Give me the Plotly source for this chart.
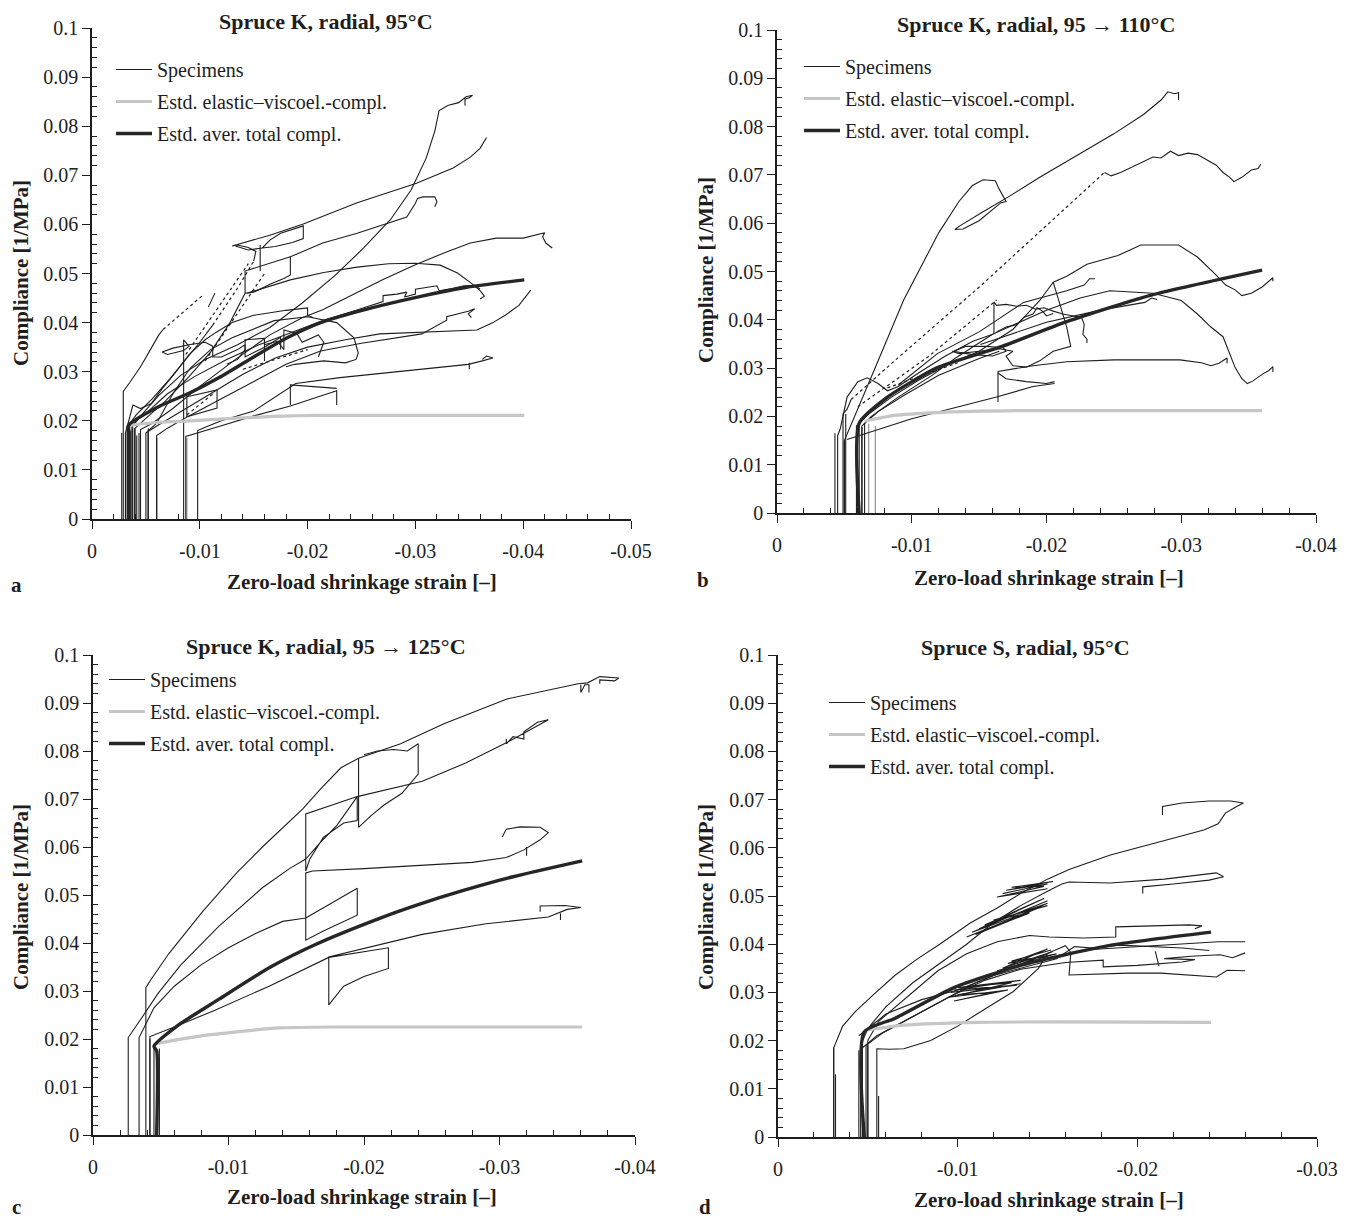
import plotly.graph_objects as go

# page body has an 8 px margin, so the figure is drawn 8 px in from the corner
OFF = 8
W, H = 1353 - OFF, 1220 - OFF
FONT = "Liberation Serif, Times New Roman, serif"
INK = "#1e1e1e"

# ---------------- Panel a : Spruce K, radial, 95°C ----------------
A_TOTAL = [(-0.0034, 0), (-0.0034, 0.0175), (-0.0034, 0.0191), (-0.0063, 0.0230), (-0.0091, 0.0257),
           (-0.0118, 0.0288), (-0.0150, 0.0330), (-0.0181, 0.0369), (-0.0212, 0.0400), (-0.0247, 0.0423),
           (-0.0306, 0.0454), (-0.0345, 0.0471), (-0.0401, 0.0487)]
A_ELASTIC = [(-0.0036, 0.0191), (-0.0063, 0.0197), (-0.0091, 0.0200), (-0.0130, 0.0205), (-0.0169, 0.0209),
             (-0.0208, 0.0211), (-0.0401, 0.0211)]
A_VX = [-0.00276, -0.00315, -0.0033, -0.00359, -0.00377, -0.00393, -0.00415, -0.00436, -0.00522, -0.0060]
A_VY = [0.0175, 0.0170, 0.0185, 0.0180, 0.0187, 0.0185, 0.0170, 0.0175, 0.0185, 0.0165]
A_GREY_VX = [-0.0088, -0.0032]
A_GREY_VY = [0.0165, 0.0190]
A1 = [(-0.0029, 0), (-0.0029, 0.026), (-0.0035, 0.0278), (-0.0045, 0.031), (-0.0055, 0.0348), (-0.0062, 0.0375),
      (-0.0066, 0.0386)]
A1B = [(-0.0108, 0.0432), (-0.0111, 0.0445), (-0.0114, 0.046)]
A2 = [(-0.0037, 0), (-0.0037, 0.0187), (-0.0046, 0.0212), (-0.0062, 0.0252), (-0.0082, 0.0292), (-0.0105, 0.0325),
      (-0.0135, 0.0355), (-0.0165, 0.0390), (-0.0195, 0.0440), (-0.0225, 0.0495), (-0.0252, 0.0552),
      (-0.0277, 0.0610), (-0.0296, 0.0670), (-0.0310, 0.0735), (-0.0318, 0.0790), (-0.0322, 0.0832),
      (-0.0330, 0.0842), (-0.0340, 0.0848), (-0.0347, 0.0860), (-0.0353, 0.0863), (-0.0350, 0.0858),
      (-0.0346, 0.0855), (-0.0346, 0.0842)]
A3 = [(-0.0033, 0), (-0.0033, 0.0188), (-0.0041, 0.0212), (-0.0056, 0.0245), (-0.0072, 0.0285), (-0.0087, 0.0325),
      (-0.0100, 0.0360), (-0.0112, 0.0395)]
A3B = [(-0.0150, 0.0525), (-0.0152, 0.0545), (-0.0145, 0.0553), (-0.0135, 0.0558), (-0.0130, 0.0556),
       (-0.0140, 0.0562), (-0.0165, 0.0578), (-0.0196, 0.0601), (-0.0246, 0.0644), (-0.0301, 0.0684),
       (-0.0335, 0.0715), (-0.0351, 0.0737), (-0.0360, 0.0755), (-0.0366, 0.0777)]
A3C = [(-0.0133, 0.0556), (-0.0145, 0.0548), (-0.0158, 0.0552), (-0.0165, 0.0568), (-0.0175, 0.0582),
       (-0.0196, 0.0597), (-0.0196, 0.0571), (-0.0186, 0.0563), (-0.0170, 0.0555), (-0.0158, 0.0552)]
A3D = [(-0.0156, 0.0558), (-0.0156, 0.0505)]
A4 = [(-0.0040, 0), (-0.0040, 0.0185), (-0.0050, 0.0205), (-0.0068, 0.0240), (-0.0090, 0.0290), (-0.0110, 0.0340),
      (-0.0128, 0.0400), (-0.0142, 0.0460), (-0.0150, 0.0462), (-0.0165, 0.0478), (-0.0178, 0.0490),
      (-0.0184, 0.0497), (-0.0184, 0.0534), (-0.0142, 0.0505), (-0.0142, 0.0460)]
A4B = [(-0.0184, 0.0534), (-0.0214, 0.0562), (-0.0246, 0.0582), (-0.0276, 0.0603), (-0.0292, 0.0615),
       (-0.0300, 0.0643), (-0.0302, 0.0653), (-0.0307, 0.0656), (-0.0318, 0.0656), (-0.0320, 0.0646),
       (-0.0318, 0.0636)]
A5 = [(-0.0144, 0.0460), (-0.0165, 0.0475), (-0.0184, 0.0487), (-0.0215, 0.0502), (-0.0246, 0.0513),
      (-0.0275, 0.0520), (-0.0300, 0.0521), (-0.0323, 0.0517), (-0.0339, 0.0501), (-0.0352, 0.0480),
      (-0.0360, 0.0465), (-0.0364, 0.0454), (-0.0360, 0.0448)]
A6 = [(-0.0045, 0), (-0.0045, 0.0182), (-0.0056, 0.0195), (-0.0075, 0.0225), (-0.0100, 0.0270), (-0.0130, 0.0320),
      (-0.0165, 0.0375), (-0.0195, 0.0410), (-0.0214, 0.0426), (-0.0240, 0.0455), (-0.0270, 0.0488),
      (-0.0300, 0.0518), (-0.0330, 0.0545), (-0.0351, 0.0562), (-0.0375, 0.0572), (-0.0400, 0.0572),
      (-0.0412, 0.0578), (-0.0420, 0.0583), (-0.0418, 0.0575), (-0.0421, 0.0562), (-0.0427, 0.0552)]
A7 = [(-0.0052, 0), (-0.0052, 0.0178), (-0.0062, 0.0192), (-0.0080, 0.0215), (-0.0110, 0.0255), (-0.0140, 0.0295),
      (-0.0170, 0.0328), (-0.0200, 0.0350), (-0.0235, 0.0365), (-0.0267, 0.0377), (-0.0300, 0.0380),
      (-0.0357, 0.0385), (-0.0372, 0.0400), (-0.0384, 0.0416), (-0.0396, 0.0435), (-0.0405, 0.0462),
      (-0.0407, 0.0466)]
A8 = [(-0.0060, 0), (-0.0060, 0.0170), (-0.0070, 0.0185), (-0.0090, 0.0210), (-0.0120, 0.0245), (-0.0150, 0.0280),
      (-0.0180, 0.0315), (-0.0212, 0.0342), (-0.0250, 0.0358), (-0.0306, 0.0377), (-0.0325, 0.0400),
      (-0.0329, 0.0405), (-0.0329, 0.0412), (-0.0340, 0.0418), (-0.0349, 0.0423), (-0.0355, 0.0428),
      (-0.0349, 0.0418), (-0.0352, 0.0410)]
A9 = [(-0.0098, 0), (-0.0098, 0.0180), (-0.0105, 0.0187), (-0.0120, 0.0200), (-0.0150, 0.0220), (-0.0189, 0.0276),
      (-0.0230, 0.0288), (-0.0267, 0.0296), (-0.0310, 0.0306), (-0.0349, 0.0315), (-0.0362, 0.0322),
      (-0.0372, 0.0328), (-0.0366, 0.0332), (-0.0362, 0.0325)]
A9B = [(-0.0350, 0.0318), (-0.0350, 0.0305)]
A10 = [(-0.0087, 0), (-0.0087, 0.0168), (-0.0120, 0.0190), (-0.0150, 0.0210), (-0.0184, 0.0230),
       (-0.0227, 0.0261), (-0.0227, 0.0232)]
A10B = [(-0.0227, 0.0266), (-0.0200, 0.0270), (-0.0184, 0.0273), (-0.0184, 0.0232)]
A11 = [(-0.0088, 0.0249), (-0.0116, 0.0263), (-0.0116, 0.0226), (-0.0088, 0.0208), (-0.0088, 0.0249)]
A12 = [(-0.0050, 0), (-0.0050, 0.0175), (-0.0060, 0.0195), (-0.0075, 0.0255), (-0.0091, 0.0307), (-0.0110, 0.0345),
       (-0.0130, 0.0369), (-0.0169, 0.0404), (-0.0200, 0.0412), (-0.0227, 0.0400), (-0.0243, 0.0369),
       (-0.0247, 0.0338), (-0.0245, 0.0325), (-0.0235, 0.0318), (-0.0215, 0.0322), (-0.0200, 0.0318),
       (-0.0188, 0.0315), (-0.0180, 0.0310)]
A13 = [(-0.0035, 0), (-0.0035, 0.0190), (-0.0050, 0.0215), (-0.0070, 0.0255), (-0.0095, 0.0290), (-0.0125, 0.0325),
       (-0.0155, 0.0355), (-0.0185, 0.0380), (-0.0215, 0.0405), (-0.0245, 0.0425), (-0.0270, 0.0443),
       (-0.0270, 0.0455), (-0.0283, 0.0458), (-0.0292, 0.0462), (-0.0290, 0.0452), (-0.0300, 0.0458),
       (-0.0300, 0.0468), (-0.0320, 0.0475), (-0.0322, 0.0465), (-0.0335, 0.0470), (-0.0345, 0.0475),
       (-0.0355, 0.0476), (-0.0360, 0.0468)]
A14 = [(-0.0031, 0), (-0.0031, 0.0175), (-0.0038, 0.0232), (-0.0045, 0.0225), (-0.0055, 0.0235), (-0.0065, 0.0265),
       (-0.0078, 0.0300), (-0.0090, 0.0335), (-0.0105, 0.0365), (-0.0115, 0.0380), (-0.0130, 0.0400),
       (-0.0150, 0.0415), (-0.0180, 0.0425), (-0.0200, 0.0430), (-0.0200, 0.0415), (-0.0205, 0.0410)]
A15 = [(-0.0085, 0), (-0.0085, 0.0365), (-0.0090, 0.0352), (-0.0085, 0.0343), (-0.0070, 0.0335), (-0.0065, 0.0340),
       (-0.0075, 0.0348), (-0.0090, 0.0355), (-0.0105, 0.0360), (-0.0112, 0.0352), (-0.0112, 0.0330),
       (-0.0120, 0.0330), (-0.0135, 0.0345), (-0.0142, 0.0355), (-0.0142, 0.0330), (-0.0160, 0.0350),
       (-0.0175, 0.0370), (-0.0175, 0.0345)]
A16 = [(-0.0125, 0.0315), (-0.0135, 0.0325), (-0.0142, 0.0345), (-0.0142, 0.0365), (-0.0160, 0.0368),
       (-0.0160, 0.0322), (-0.0160, 0.0355), (-0.0172, 0.0362), (-0.0178, 0.0345), (-0.0178, 0.0385),
       (-0.0190, 0.0378), (-0.0195, 0.0360), (-0.0210, 0.0375), (-0.0215, 0.0360), (-0.0210, 0.0330)]
A_DOT1 = [(-0.0066, 0.0386), (-0.0104, 0.0458)]
A_DOT2 = [(-0.0112, 0.0395), (-0.0135, 0.0470), (-0.0150, 0.0525)]
A_DOT3 = [(-0.0087, 0.0335), (-0.0145, 0.0520)]
A_DOT4 = [(-0.0105, 0.0322), (-0.0160, 0.0500)]
A_DOT5 = [(-0.0140, 0.0305), (-0.0200, 0.0345)]
A_DOT6 = [(-0.0088, 0.0212), (-0.0114, 0.0258)]

# ---------------- Panel b : Spruce K, radial, 95 -> 110°C ----------------
B_TOTAL = [(-0.0061, 0), (-0.0061, 0.0186), (-0.0081, 0.0238), (-0.0119, 0.0301), (-0.0167, 0.0345),
           (-0.0215, 0.0396), (-0.0279, 0.0452), (-0.0360, 0.0503)]
B_ELASTIC = [(-0.0065, 0.0190), (-0.0087, 0.0202), (-0.0119, 0.0208), (-0.0183, 0.0212), (-0.0360, 0.0212)]
B_VX = [-0.0043, -0.0050, -0.0051, -0.0059, -0.0061, -0.0063]
B_VY = [0.0165, 0.0150, 0.0205, 0.0180, 0.0185, 0.0178]
B_GREY_VX = [-0.0068, -0.0073]
B_GREY_VY = [0.0185, 0.0180]
B1 = [(-0.0050, 0), (-0.0050, 0.0150), (-0.0072, 0.0295), (-0.0094, 0.0441), (-0.0120, 0.0580), (-0.0135, 0.0645),
      (-0.0145, 0.0678), (-0.0153, 0.0690), (-0.0162, 0.0688), (-0.0165, 0.0670), (-0.0170, 0.0645),
      (-0.0166, 0.0642), (-0.0150, 0.0605), (-0.0138, 0.0588), (-0.0132, 0.0587), (-0.0136, 0.0595),
      (-0.0152, 0.0622), (-0.0172, 0.0655), (-0.0195, 0.0695), (-0.0225, 0.0745), (-0.0250, 0.0785),
      (-0.0272, 0.0825), (-0.0285, 0.0855), (-0.0290, 0.0872), (-0.0295, 0.0868), (-0.0298, 0.0870),
      (-0.0298, 0.0855)]
B2 = [(-0.0049, 0), (-0.0049, 0.0205), (-0.0052, 0.0215), (-0.0055, 0.0235)]
B2B = [(-0.0243, 0.0705), (-0.0248, 0.0698), (-0.0255, 0.0705), (-0.0265, 0.0718), (-0.0279, 0.0737),
       (-0.0285, 0.0735), (-0.0292, 0.0749), (-0.0298, 0.0740), (-0.0305, 0.0745), (-0.0312, 0.0742),
       (-0.0320, 0.0730), (-0.0326, 0.0720), (-0.0331, 0.0705), (-0.0336, 0.0695), (-0.0339, 0.0686),
       (-0.0345, 0.0695), (-0.0352, 0.0710), (-0.0357, 0.0713), (-0.0359, 0.0722)]
B3 = [(-0.0059, 0), (-0.0059, 0.0180), (-0.0068, 0.0205), (-0.0085, 0.0240), (-0.0105, 0.0275), (-0.0125, 0.0305),
      (-0.0150, 0.0335), (-0.0175, 0.0380), (-0.0195, 0.0440), (-0.0205, 0.0478), (-0.0215, 0.0490),
      (-0.0230, 0.0515), (-0.0253, 0.0533), (-0.0270, 0.0555), (-0.0298, 0.0555), (-0.0312, 0.0530),
      (-0.0325, 0.0495), (-0.0333, 0.0472), (-0.0340, 0.0462), (-0.0345, 0.0450), (-0.0352, 0.0455),
      (-0.0360, 0.0468), (-0.0368, 0.0487), (-0.0368, 0.0480)]
B3B = [(-0.0205, 0.0478), (-0.0210, 0.0430), (-0.0215, 0.0385), (-0.0218, 0.0345), (-0.0212, 0.0340),
       (-0.0205, 0.0335), (-0.0195, 0.0315), (-0.0185, 0.0302), (-0.0175, 0.0305), (-0.0170, 0.0325),
       (-0.0175, 0.0335), (-0.0165, 0.0340), (-0.0150, 0.0335), (-0.0135, 0.0330), (-0.0130, 0.0335)]
B4 = [(-0.0063, 0), (-0.0063, 0.0180), (-0.0070, 0.0200), (-0.0090, 0.0240), (-0.0115, 0.0285), (-0.0132, 0.0320),
      (-0.0160, 0.0370), (-0.0200, 0.0420), (-0.0225, 0.0445), (-0.0247, 0.0460), (-0.0279, 0.0455),
      (-0.0300, 0.0440), (-0.0312, 0.0412), (-0.0322, 0.0385), (-0.0331, 0.0365), (-0.0336, 0.0330),
      (-0.0340, 0.0301), (-0.0345, 0.0278), (-0.0349, 0.0268), (-0.0353, 0.0273), (-0.0360, 0.0287),
      (-0.0365, 0.0295), (-0.0368, 0.0303), (-0.0368, 0.0292)]
B5 = [(-0.0164, 0.0230), (-0.0164, 0.0293), (-0.0190, 0.0305), (-0.0215, 0.0313), (-0.0250, 0.0317),
      (-0.0299, 0.0317), (-0.0315, 0.0311), (-0.0322, 0.0305), (-0.0328, 0.0310), (-0.0334, 0.0321),
      (-0.0334, 0.0310)]
B5B = [(-0.0164, 0.0290), (-0.0170, 0.0278), (-0.0185, 0.0272), (-0.0200, 0.0268), (-0.0206, 0.0272)]
B5C = [(-0.0052, 0.0152), (-0.0100, 0.0195), (-0.0163, 0.0240), (-0.0190, 0.0262), (-0.0206, 0.0268)]
B6 = [(-0.0151, 0.0349), (-0.0200, 0.0395), (-0.0240, 0.0420), (-0.0273, 0.0436), (-0.0278, 0.0445),
      (-0.0282, 0.0442)]
B7 = [(-0.0090, 0.0265), (-0.0119, 0.0330), (-0.0150, 0.0375), (-0.0183, 0.0436), (-0.0215, 0.0460),
      (-0.0228, 0.0472), (-0.0232, 0.0485), (-0.0236, 0.0485)]
B8 = [(-0.0045, 0), (-0.0045, 0.0160), (-0.0047, 0.0175), (-0.0052, 0.0240), (-0.0060, 0.0272), (-0.0067, 0.0280),
      (-0.0075, 0.0268), (-0.0082, 0.0253), (-0.0090, 0.0262), (-0.0105, 0.0290), (-0.0125, 0.0325),
      (-0.0145, 0.0355), (-0.0160, 0.0370)]
B9 = [(-0.0161, 0.0370), (-0.0161, 0.0437), (-0.0163, 0.0430), (-0.0170, 0.0432), (-0.0178, 0.0428),
      (-0.0185, 0.0430), (-0.0192, 0.0422), (-0.0198, 0.0425), (-0.0205, 0.0418), (-0.0212, 0.0412),
      (-0.0220, 0.0408), (-0.0226, 0.0405), (-0.0228, 0.0390), (-0.0227, 0.0370), (-0.0230, 0.0360),
      (-0.0230, 0.0352)]
B10 = [(-0.0163, 0.0375), (-0.0170, 0.0385), (-0.0178, 0.0390), (-0.0183, 0.0405), (-0.0190, 0.0412),
       (-0.0193, 0.0425), (-0.0197, 0.0418), (-0.0200, 0.0408), (-0.0205, 0.0413)]
B11 = [(-0.0065, 0), (-0.0065, 0.0185), (-0.0075, 0.0210), (-0.0095, 0.0245), (-0.0120, 0.0285),
       (-0.0150, 0.0320), (-0.0165, 0.0335)]
B12 = [(-0.0131, 0.0335), (-0.0140, 0.0345), (-0.0155, 0.0345), (-0.0168, 0.0342), (-0.0170, 0.0335),
       (-0.0160, 0.0325), (-0.0145, 0.0328), (-0.0131, 0.0335)]
B_DOT1 = [(-0.0055, 0.0235), (-0.0088, 0.0317), (-0.0151, 0.0470), (-0.0243, 0.0705)]
B_DOT2 = [(-0.0060, 0.0220), (-0.0112, 0.0323), (-0.0163, 0.0441)]
B_DOT3 = [(-0.0082, 0.0259), (-0.0134, 0.0311)]

# ---------------- Panel c : Spruce K, radial, 95 -> 125°C ----------------
C_TOTAL = [(-0.0047, 0), (-0.0047, 0.0175), (-0.0045, 0.0185), (-0.0062, 0.0227), (-0.0093, 0.0283),
           (-0.0131, 0.0350), (-0.0165, 0.0398), (-0.0212, 0.0452), (-0.0240, 0.0480), (-0.0274, 0.0510),
           (-0.0310, 0.0538), (-0.0361, 0.0571)]
C_ELASTIC = [(-0.0047, 0.0191), (-0.0081, 0.0207), (-0.0106, 0.0215), (-0.0137, 0.0223), (-0.0180, 0.0225),
             (-0.0361, 0.0225)]
C_VX = [-0.0042, -0.0045, -0.0049]
C_VY = [0.0200, 0.0190, 0.0180]
C1 = [(-0.0039, 0), (-0.0039, 0.0307), (-0.0043, 0.0325), (-0.0056, 0.0378), (-0.0081, 0.0466), (-0.0106, 0.0546),
      (-0.0125, 0.0600), (-0.0143, 0.0649), (-0.0155, 0.0680), (-0.0168, 0.0721), (-0.0183, 0.0765),
      (-0.0196, 0.0785), (-0.0227, 0.0815), (-0.0259, 0.0857), (-0.0305, 0.0908), (-0.0358, 0.0940),
      (-0.0365, 0.0942), (-0.0374, 0.0955), (-0.0388, 0.0952), (-0.0385, 0.0946), (-0.0374, 0.0948),
      (-0.0374, 0.0940)]
C1B = [(-0.0196, 0.0785), (-0.0196, 0.0641), (-0.0205, 0.0665), (-0.0215, 0.0688), (-0.0228, 0.0712),
       (-0.0240, 0.0752), (-0.0240, 0.0815), (-0.0232, 0.0800), (-0.0222, 0.0803), (-0.0210, 0.0800),
       (-0.0200, 0.0792)]
C1C = [(-0.0360, 0.0938), (-0.0360, 0.0922), (-0.0363, 0.0938), (-0.0366, 0.0938), (-0.0366, 0.0922)]
C2 = [(-0.0026, 0), (-0.0026, 0.0203), (-0.0035, 0.0240), (-0.0048, 0.0295), (-0.0065, 0.0355), (-0.0093, 0.0435),
      (-0.0125, 0.0515), (-0.0145, 0.0555), (-0.0157, 0.0575), (-0.0168, 0.0610), (-0.0180, 0.0645),
      (-0.0195, 0.0705), (-0.0195, 0.0655), (-0.0185, 0.0650), (-0.0170, 0.0620), (-0.0160, 0.0575),
      (-0.0157, 0.0550), (-0.0157, 0.0669), (-0.0195, 0.0705), (-0.0220, 0.0722), (-0.0243, 0.0737),
      (-0.0275, 0.0775), (-0.0305, 0.0817), (-0.0320, 0.0840), (-0.0336, 0.0865), (-0.0328, 0.0860),
      (-0.0318, 0.0840), (-0.0318, 0.0825), (-0.0310, 0.0830), (-0.0305, 0.0815), (-0.0305, 0.0825)]
C3 = [(-0.0034, 0), (-0.0034, 0.0203), (-0.0045, 0.0265), (-0.0060, 0.0310), (-0.0080, 0.0355), (-0.0100, 0.0390),
      (-0.0120, 0.0420), (-0.0140, 0.0445), (-0.0157, 0.0452), (-0.0157, 0.0406), (-0.0170, 0.0425),
      (-0.0185, 0.0445), (-0.0195, 0.0458), (-0.0195, 0.0514), (-0.0180, 0.0490), (-0.0165, 0.0465),
      (-0.0157, 0.0452), (-0.0157, 0.0546), (-0.0162, 0.0550), (-0.0200, 0.0555), (-0.0243, 0.0562),
      (-0.0280, 0.0568), (-0.0305, 0.0578), (-0.0318, 0.0594), (-0.0330, 0.0615), (-0.0336, 0.0630),
      (-0.0330, 0.0641), (-0.0315, 0.0642), (-0.0305, 0.0637), (-0.0302, 0.0621)]
C3B = [(-0.0320, 0.0600), (-0.0320, 0.0582)]
C4 = [(-0.0042, 0), (-0.0042, 0.0205), (-0.0060, 0.0225), (-0.0090, 0.0260), (-0.0130, 0.0310), (-0.0174, 0.0370),
      (-0.0218, 0.0390), (-0.0218, 0.0347), (-0.0200, 0.0330), (-0.0185, 0.0310), (-0.0174, 0.0271),
      (-0.0174, 0.0371), (-0.0243, 0.0418), (-0.0290, 0.0440), (-0.0336, 0.0454), (-0.0350, 0.0470),
      (-0.0360, 0.0474), (-0.0348, 0.0478), (-0.0330, 0.0477), (-0.0330, 0.0465)]
C4B = [(-0.0345, 0.0462), (-0.0345, 0.0448)]

# ---------------- Panel d : Spruce S, radial, 95°C ----------------
D_TOTAL = [(-0.0048, 0), (-0.0048, 0.0218), (-0.0065, 0.0246), (-0.0098, 0.0310), (-0.0136, 0.0357),
           (-0.0184, 0.0397), (-0.0241, 0.0425)]
D_ELASTIC = [(-0.0050, 0.0222), (-0.0070, 0.0232), (-0.0112, 0.0238), (-0.0241, 0.0238)]
D_VX = [-0.0031, -0.0032, -0.0045, -0.0047, -0.0050, -0.0056]
D_VY = [0.0185, 0.0130, 0.0180, 0.0210, 0.0190, 0.0085]
D1 = [(-0.0031, 0), (-0.0031, 0.0185), (-0.0036, 0.0230), (-0.0043, 0.0260), (-0.0053, 0.0295), (-0.0065, 0.0335),
      (-0.0077, 0.0368), (-0.0090, 0.0400), (-0.0107, 0.0444), (-0.0122, 0.0475), (-0.0135, 0.0505),
      (-0.0150, 0.0535), (-0.0162, 0.0555), (-0.0170, 0.0565), (-0.0185, 0.0585), (-0.0210, 0.0610),
      (-0.0237, 0.0637), (-0.0245, 0.0650), (-0.0249, 0.0672), (-0.0255, 0.0685), (-0.0259, 0.0693),
      (-0.0252, 0.0697), (-0.0240, 0.0697), (-0.0225, 0.0693), (-0.0214, 0.0686), (-0.0214, 0.0668)]
D2 = [(-0.0046, 0), (-0.0046, 0.0190), (-0.0050, 0.0225), (-0.0060, 0.0270), (-0.0075, 0.0320), (-0.0090, 0.0360),
      (-0.0105, 0.0400), (-0.0120, 0.0445), (-0.0135, 0.0480), (-0.0150, 0.0510), (-0.0158, 0.0525),
      (-0.0162, 0.0529), (-0.0185, 0.0527), (-0.0215, 0.0535), (-0.0244, 0.0548), (-0.0248, 0.0540),
      (-0.0240, 0.0533), (-0.0220, 0.0525), (-0.0203, 0.0519), (-0.0203, 0.0505)]
D3 = [(-0.0050, 0), (-0.0050, 0.0200), (-0.0056, 0.0240), (-0.0070, 0.0285), (-0.0089, 0.0345), (-0.0105, 0.0380),
      (-0.0122, 0.0405), (-0.0140, 0.0418), (-0.0151, 0.0415), (-0.0170, 0.0413), (-0.0188, 0.0415),
      (-0.0188, 0.0436), (-0.0210, 0.0438), (-0.0229, 0.0440), (-0.0236, 0.0438), (-0.0232, 0.0432)]
D4 = [(-0.0047, 0), (-0.0047, 0.0185), (-0.0055, 0.0210), (-0.0070, 0.0240), (-0.0090, 0.0280), (-0.0110, 0.0320),
      (-0.0130, 0.0350), (-0.0150, 0.0372), (-0.0170, 0.0388), (-0.0200, 0.0395), (-0.0230, 0.0402),
      (-0.0245, 0.0405), (-0.0260, 0.0405)]
D5 = [(-0.0049, 0), (-0.0049, 0.0190), (-0.0058, 0.0215), (-0.0075, 0.0250), (-0.0095, 0.0290), (-0.0115, 0.0325),
      (-0.0135, 0.0348), (-0.0160, 0.0362), (-0.0181, 0.0367), (-0.0181, 0.0353), (-0.0200, 0.0356),
      (-0.0225, 0.0363), (-0.0232, 0.0368), (-0.0215, 0.0370), (-0.0230, 0.0375), (-0.0246, 0.0378),
      (-0.0253, 0.0372), (-0.0260, 0.0382)]
D6 = [(-0.0055, 0), (-0.0055, 0.0183), (-0.0062, 0.0182), (-0.0070, 0.0183), (-0.0085, 0.0200), (-0.0100, 0.0230),
      (-0.0115, 0.0265), (-0.0131, 0.0302), (-0.0145, 0.0350), (-0.0150, 0.0381), (-0.0160, 0.0397),
      (-0.0163, 0.0383), (-0.0162, 0.0336), (-0.0175, 0.0338), (-0.0195, 0.0340), (-0.0213, 0.0340),
      (-0.0230, 0.0335), (-0.0244, 0.0332), (-0.0250, 0.0346), (-0.0260, 0.0345)]
D7 = [(-0.0045, 0.0210), (-0.0060, 0.0255), (-0.0080, 0.0285), (-0.0100, 0.0305), (-0.0120, 0.0335),
      (-0.0140, 0.0355), (-0.0155, 0.0370), (-0.0165, 0.0395), (-0.0175, 0.0392), (-0.0190, 0.0398),
      (-0.0210, 0.0395), (-0.0225, 0.0392), (-0.0240, 0.0387)]
D8 = [(-0.0210, 0.0385), (-0.0212, 0.0355)]
D_H1 = [(-0.0125, 0.0505), (-0.0150, 0.0525), (-0.0127, 0.0512), (-0.0153, 0.0530), (-0.0130, 0.0518),
        (-0.0148, 0.0520), (-0.0122, 0.0498), (-0.0150, 0.0515)]
D_H2 = [(-0.0105, 0.0415), (-0.0145, 0.0475), (-0.0108, 0.0425), (-0.0150, 0.0490), (-0.0112, 0.0432),
        (-0.0148, 0.0495), (-0.0115, 0.0440), (-0.0150, 0.0485), (-0.0110, 0.0420), (-0.0140, 0.0465),
        (-0.0120, 0.0450), (-0.0150, 0.0480)]
D_H3 = [(-0.0122, 0.0340), (-0.0153, 0.0385), (-0.0125, 0.0350), (-0.0150, 0.0390), (-0.0128, 0.0360),
        (-0.0155, 0.0380), (-0.0122, 0.0345), (-0.0150, 0.0375), (-0.0130, 0.0365), (-0.0152, 0.0388)]
D_H4 = [(-0.0096, 0.0300), (-0.0133, 0.0315), (-0.0098, 0.0305), (-0.0135, 0.0325), (-0.0100, 0.0310),
        (-0.0130, 0.0320), (-0.0095, 0.0290), (-0.0128, 0.0305), (-0.0098, 0.0282), (-0.0120, 0.0300),
        (-0.0100, 0.0295), (-0.0135, 0.0318)]

# ---------------- texts ----------------
TITLES = ["Spruce K, radial, 95°C", "Spruce K, radial, 95 \u2192 110°C",
          "Spruce K, radial, 95 \u2192 125°C", "Spruce S, radial, 95°C"]
LETTERS = ["a", "b", "c", "d"]
X_TITLE = "Zero-load shrinkage strain [\u2013]"
Y_TITLE = "Compliance [1/MPa]"
LEGEND_NAMES = ["Specimens", "Estd. elastic\u2013viscoel.-compl.", "Estd. aver. total compl."]
X_MAX = [-0.05, -0.04, -0.04, -0.03]
Y_TICKS = [0, 0.01, 0.02, 0.03, 0.04, 0.05, 0.06, 0.07, 0.08, 0.09, 0.1]
Y_TICKTEXT = ["0", "0.01", "0.02", "0.03", "0.04", "0.05", "0.06", "0.07", "0.08", "0.09", "0.1"]

panels = [
    dict(spec=[A1, A1B, A2, A3, A3B, A3C, A3D, A4, A4B, A5, A6, A7, A8, A9, A9B, A10, A10B, A11, A12, A13, A14,
               A15, A16],
         dots=[A_DOT1, A_DOT2, A_DOT3, A_DOT4, A_DOT5, A_DOT6], vx=A_VX, vy=A_VY, gvx=A_GREY_VX, gvy=A_GREY_VY,
         total=A_TOTAL, elastic=A_ELASTIC),
    dict(spec=[B1, B2, B2B, B3, B3B, B4, B5, B5B, B5C, B6, B7, B8, B9, B10, B11, B12],
         dots=[B_DOT1, B_DOT2, B_DOT3], vx=B_VX, vy=B_VY, gvx=B_GREY_VX, gvy=B_GREY_VY,
         total=B_TOTAL, elastic=B_ELASTIC),
    dict(spec=[C1, C1B, C1C, C2, C3, C3B, C4, C4B], dots=[], vx=C_VX, vy=C_VY, gvx=[], gvy=[],
         total=C_TOTAL, elastic=C_ELASTIC),
    dict(spec=[D1, D2, D3, D4, D5, D6, D7, D8, D_H1, D_H2, D_H3, D_H4], dots=[], vx=D_VX, vy=D_VY, gvx=[], gvy=[],
         total=D_TOTAL, elastic=D_ELASTIC),
]

# screen-pixel layout of each panel: x0, x1 (plot left/right), ybot, ytop
PIX = [(92, 631, 519, 28), (777, 1316, 513, 30), (93, 635, 1135, 655), (778, 1317, 1137, 655)]
TITLE_POS = [(326, 22), (1036, 25), (326, 646), (1025, 648)]
XT_POS = [(362, 582), (1049, 578), (362, 1197), (1049, 1200)]
YT_POS = [(21, 273), (706, 270), (21, 897), (706, 897)]
LET_POS = [(16, 585), (703, 580), (16, 1207), (705, 1207)]
LEG_POS = [(111, 50), (799, 47), (104, 660), (824, 683)]

fig = go.Figure()


def px(x):
    return (x - OFF) / W


def py(y):
    return 1 - (y - OFF) / H


for i, p in enumerate(panels):
    xa = "x" if i == 0 else f"x{i + 1}"
    ya = "y" if i == 0 else f"y{i + 1}"
    lg = "legend" if i == 0 else f"legend{i + 1}"
    thin = dict(color=INK, width=1.1)
    for v, h in zip(p["vx"], p["vy"]):
        fig.add_trace(go.Scatter(x=[v, v], y=[0, h], mode="lines", line=thin, xaxis=xa, yaxis=ya,
                                 showlegend=False, hoverinfo="skip"))
    for v, h in zip(p["gvx"], p["gvy"]):
        fig.add_trace(go.Scatter(x=[v, v], y=[0, h], mode="lines", line=dict(color="#9a9a9a", width=1.3),
                                 xaxis=xa, yaxis=ya, showlegend=False, hoverinfo="skip"))
    for j, c in enumerate(p["spec"]):
        fig.add_trace(go.Scatter(x=[q[0] for q in c], y=[q[1] for q in c], mode="lines", line=thin,
                                 xaxis=xa, yaxis=ya, name=LEGEND_NAMES[0], legend=lg, legendgroup=f"s{i}",
                                 showlegend=(j == 0), hoverinfo="skip"))
    for c in p["dots"]:
        fig.add_trace(go.Scatter(x=[q[0] for q in c], y=[q[1] for q in c], mode="lines",
                                 line=dict(color=INK, width=1.2, dash="dot"), xaxis=xa, yaxis=ya,
                                 showlegend=False, hoverinfo="skip"))
    e = p["elastic"]
    fig.add_trace(go.Scatter(x=[q[0] for q in e], y=[q[1] for q in e], mode="lines",
                             line=dict(color="#c6c6c6", width=3.2, shape="spline", smoothing=0.6),
                             xaxis=xa, yaxis=ya, name=LEGEND_NAMES[1],
                             legend=lg, legendgroup=f"e{i}", hoverinfo="skip"))
    t = p["total"]
    fig.add_trace(go.Scatter(x=[q[0] for q in t], y=[q[1] for q in t], mode="lines",
                             line=dict(color="#262626", width=3.4, shape="spline", smoothing=0.6),
                             xaxis=xa, yaxis=ya, name=LEGEND_NAMES[2],
                             legend=lg, legendgroup=f"t{i}", hoverinfo="skip"))

layout = dict(width=W, height=H, margin=dict(l=0, r=0, t=0, b=0, autoexpand=False), paper_bgcolor="white",
              plot_bgcolor="white", template="none",
              font=dict(family=FONT, size=20, color=INK), showlegend=True, annotations=[])

for i in range(4):
    x0, x1, yb, yt = PIX[i]
    sfx = "" if i == 0 else str(i + 1)
    xmax = X_MAX[i]
    n = int(round(-xmax / 0.01))
    xt = [-0.01 * k for k in range(n + 1)]
    xtt = ["0"] + [f"-0.0{k}" for k in range(1, n + 1)]
    xminor = [-0.002 * k for k in range(1, 5 * n) if k % 5 != 0]
    yminor = [0.002 * k for k in range(1, 50) if k % 5 != 0]
    layout["xaxis" + sfx] = dict(domain=[px(x0), px(x1)], range=[0, xmax], anchor="y" + sfx, automargin=False,
                                 tickmode="array", tickvals=xt, ticktext=xtt, showline=True, linecolor=INK,
                                 linewidth=1.5, ticks="outside", ticklen=8, tickwidth=1.4, tickcolor=INK,
                                 showgrid=False, zeroline=False, ticklabelstandoff=5,
                                 tickfont=dict(family=FONT, size=20, color=INK),
                                 minor=dict(tickmode="array", tickvals=xminor, ticks="inside", ticklen=5,
                                            tickwidth=1.2, tickcolor=INK, showgrid=False))
    layout["yaxis" + sfx] = dict(domain=[py(yb), py(yt)], range=[0, 0.1], anchor="x" + sfx, automargin=False,
                                 tickmode="array", tickvals=Y_TICKS, ticktext=Y_TICKTEXT, showline=True,
                                 linecolor=INK, linewidth=1.5, ticks="outside", ticklen=8, tickwidth=1.4,
                                 tickcolor=INK, showgrid=False, zeroline=False,
                                 tickfont=dict(family=FONT, size=20, color=INK),
                                 minor=dict(tickmode="array", tickvals=yminor, ticks="inside", ticklen=5,
                                            tickwidth=1.2, tickcolor=INK, showgrid=False))
    lg = "legend" if i == 0 else f"legend{i + 1}"
    lx, ly = LEG_POS[i]
    layout[lg] = dict(x=px(lx), y=py(ly), xanchor="left", yanchor="top", bgcolor="rgba(0,0,0,0)",
                      font=dict(family=FONT, size=20, color=INK), tracegroupgap=3, itemwidth=36,
                      traceorder="grouped")
    tx, ty = TITLE_POS[i]
    layout["annotations"].append(dict(x=px(tx), y=py(ty), xref="paper", yref="paper", showarrow=False,
                                      text=f"<b>{TITLES[i]}</b>", font=dict(family=FONT, size=22, color=INK),
                                      xanchor="center", yanchor="middle"))
    ax, ay = XT_POS[i]
    layout["annotations"].append(dict(x=px(ax), y=py(ay), xref="paper", yref="paper", showarrow=False,
                                      text=f"<b>{X_TITLE}</b>", font=dict(family=FONT, size=21, color=INK),
                                      xanchor="center", yanchor="middle"))
    yx, yy = YT_POS[i]
    layout["annotations"].append(dict(x=px(yx), y=py(yy), xref="paper", yref="paper", showarrow=False,
                                      text=f"<b>{Y_TITLE}</b>", textangle=-90,
                                      font=dict(family=FONT, size=21, color=INK),
                                      xanchor="center", yanchor="middle"))
    lx2, ly2 = LET_POS[i]
    layout["annotations"].append(dict(x=px(lx2), y=py(ly2), xref="paper", yref="paper", showarrow=False,
                                      text=f"<b>{LETTERS[i]}</b>", font=dict(family=FONT, size=21, color=INK),
                                      xanchor="center", yanchor="middle"))

fig.update_layout(**layout)
fig.write_html("out.html")
